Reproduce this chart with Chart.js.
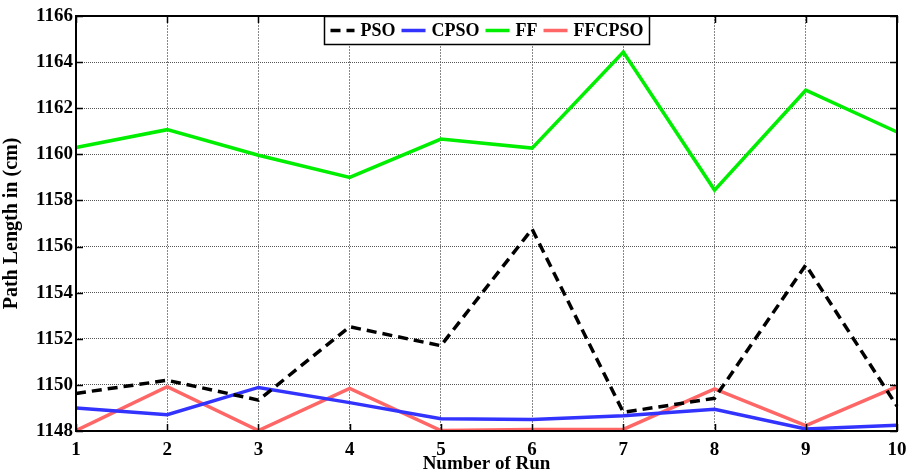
<!DOCTYPE html>
<html>
<head>
<meta charset="utf-8">
<script src="https://cdn.jsdelivr.net/npm/chart.js@4.4.1/dist/chart.umd.min.js"></script>
<style>
  html, body { margin: 0; padding: 0; background: #fff; }
  #wrap { width: 909px; height: 475px; }
</style>
</head>
<body>
<div id="wrap"><canvas id="myChart" width="909" height="475"></canvas></div>
<script>
const runs = ['1','2','3','4','5','6','7','8','9','10']
const pso    = [1149.63, 1150.2, 1149.34, 1152.52, 1151.7, 1156.76, 1148.81, 1149.42, 1155.2, 1149.08]
const cpso   = [1149.0, 1148.71, 1149.89, 1149.23, 1148.53, 1148.5, 1148.66, 1148.94, 1148.09, 1148.25]
const ff     = [1160.3, 1161.07, 1159.96, 1159.0, 1160.66, 1160.27, 1164.44, 1158.45, 1162.78, 1160.97]
const ffcpso = [1148.02, 1149.92, 1148.02, 1149.85, 1148.02, 1148.07, 1148.07, 1149.83, 1148.23, 1149.92]
const yTicks = [1148, 1150, 1152, 1154, 1156, 1158, 1160, 1162, 1164, 1166]

const FONT = "'Liberation Serif', 'Times New Roman', serif"

// matlab style box legend inside the plot
const boxLegend = {
    id: 'boxLegend',
    afterDraw(chart) {
        const ctx = chart.ctx
        const area = chart.chartArea
        ctx.save()
        ctx.font = 'bold 18px ' + FONT
        const sample = 24, gapA = 6, gapB = 6, pad = 6
        let w = pad
        chart.data.datasets.forEach(ds => {
            w += sample + gapA + ctx.measureText(ds.label).width + gapB
        })
        w = w - gapB + pad
        const h = 28
        const x0 = Math.round((area.left + area.right) / 2 - w / 2) + 0.5
        const y0 = area.top + 0.5
        ctx.fillStyle = '#fff'
        ctx.fillRect(x0, y0, w, h)
        ctx.strokeStyle = '#000'
        ctx.lineWidth = 1.5
        ctx.strokeRect(x0, y0, w, h)
        let x = x0 + pad
        const yc = y0 + h / 2
        chart.data.datasets.forEach(ds => {
            ctx.beginPath()
            ctx.setLineDash(ds.borderDash || [])
            ctx.strokeStyle = ds.borderColor
            ctx.lineWidth = ds.borderWidth
            ctx.moveTo(x, yc)
            ctx.lineTo(x + sample, yc)
            ctx.stroke()
            ctx.setLineDash([])
            x += sample + gapA
            ctx.fillStyle = '#000'
            ctx.textBaseline = 'middle'
            ctx.fillText(ds.label, x, yc + 1)
            x += ctx.measureText(ds.label).width + gapB
        })
        ctx.restore()
    }
}

// inward tick marks on all four sides + frame
const frameTicks = {
    id: 'frameTicks',
    afterDatasetsDraw(chart) {
        const ctx = chart.ctx
        const a = chart.chartArea
        const xs = chart.scales.x, ys = chart.scales.y
        const len = 7
        ctx.save()
        ctx.strokeStyle = '#000'
        ctx.lineWidth = 1.5
        xs.ticks.forEach((t, i) => {
            const px = Math.round(xs.getPixelForTick(i)) + 0.5
            ctx.beginPath()
            ctx.moveTo(px, a.bottom); ctx.lineTo(px, a.bottom - len)
            ctx.moveTo(px, a.top); ctx.lineTo(px, a.top + len)
            ctx.stroke()
        })
        ys.ticks.forEach((t, i) => {
            const py = Math.round(ys.getPixelForTick(i)) + 0.5
            ctx.beginPath()
            ctx.moveTo(a.left, py); ctx.lineTo(a.left + len, py)
            ctx.moveTo(a.right, py); ctx.lineTo(a.right - len, py)
            ctx.stroke()
        })
        ctx.lineWidth = 2
        ctx.strokeRect(a.left, a.top, a.right - a.left, a.bottom - a.top)
        ctx.restore()
    }
}

const ctx = document.getElementById('myChart').getContext('2d')

const chart = new Chart(ctx, {
    type: 'line',
    data: {
        labels: runs,
        datasets: [
            { label: 'PSO', data: pso, borderColor: '#000000', borderWidth: 3.5, borderDash: [10, 6] },
            { label: 'CPSO', data: cpso, borderColor: '#3333ff', borderWidth: 3.5 },
            { label: 'FF', data: ff, borderColor: '#00ee00', borderWidth: 3.5 },
            { label: 'FFCPSO', data: ffcpso, borderColor: '#ff6666', borderWidth: 3.5 },
        ]
    },
    options: {
        responsive: false,
        animation: false,
        layout: { padding: { top: 16, right: 12, left: 0, bottom: 0 } },
        elements: {
            point: { radius: 0 },
            line: { tension: 0, borderCapStyle: 'butt', borderJoinStyle: 'miter' }
        },
        plugins: {
            legend: { display: false },
            tooltip: { enabled: false },
        },
        scales: {
            x: {
                offset: false,
                grid: { color: '#888', lineWidth: 1, drawTicks: false },
                border: { display: false, dash: [2, 1] },
                ticks: { color: '#000', font: { family: FONT, size: 19, weight: 'bold' }, padding: 8, maxRotation: 0 },
                title: { display: true, text: 'Number of Run', color: '#000', font: { family: FONT, size: 19, weight: 'bold' }, padding: { top: -4, bottom: 0 } },
                afterFit(scale) {
                    scale.height = 44
                    scale.paddingLeft = 0
                    scale.paddingRight = 0
                }
            },
            y: {
                min: yTicks[0],
                max: yTicks[yTicks.length - 1],
                afterBuildTicks(scale) { scale.ticks = yTicks.map(v => ({ value: v })) },
                grid: { color: '#555', lineWidth: 1, drawTicks: false },
                border: { display: false, dash: [1, 1] },
                ticks: { color: '#000', font: { family: FONT, size: 19, weight: 'bold' }, padding: 3, callback: v => String(v) },
                title: { display: true, text: 'Path Length in (cm)', color: '#000', font: { family: FONT, size: 20, weight: 'bold' }, padding: { top: 0, bottom: 3 } },
                afterFit(scale) { scale.width = 76 }
            }
        }
    },
    plugins: [frameTicks, boxLegend]
})
</script>
</body>
</html>
